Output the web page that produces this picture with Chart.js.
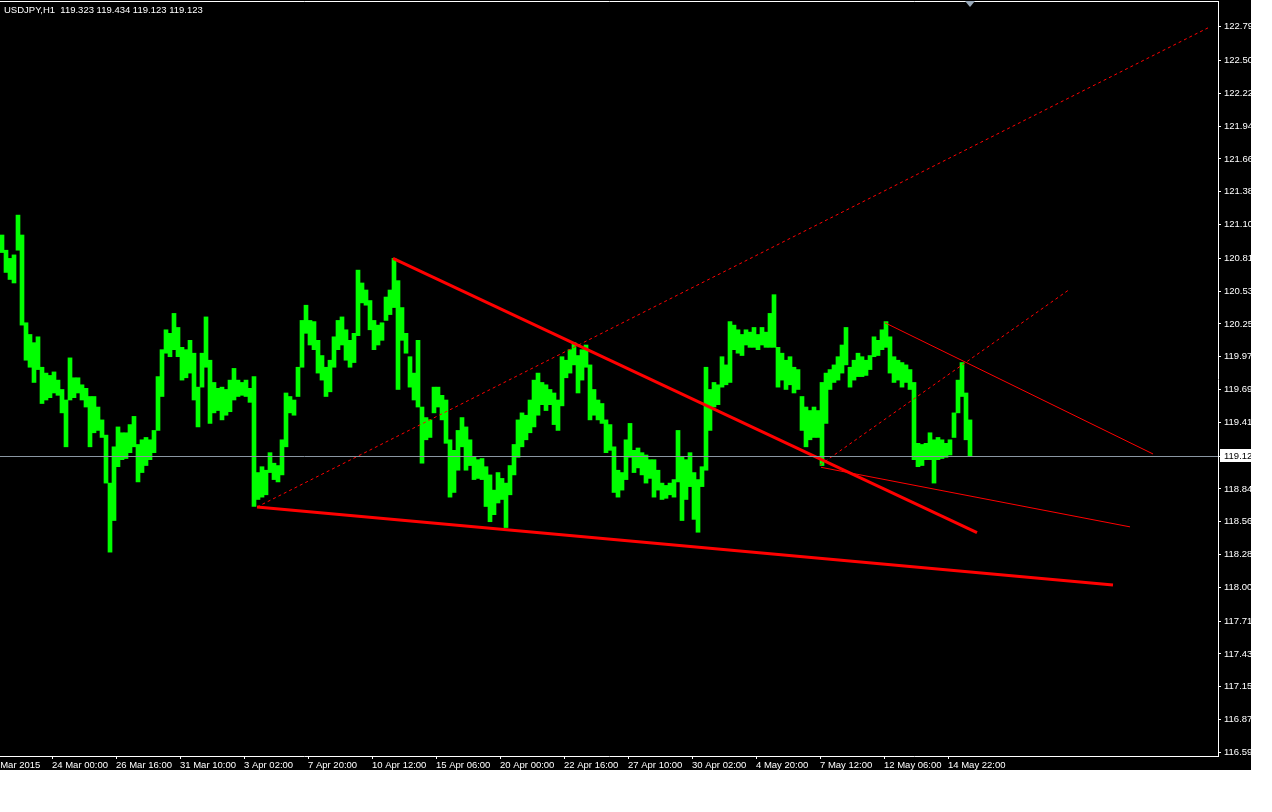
<!DOCTYPE html>
<html><head><meta charset="utf-8">
<script src="https://cdn.jsdelivr.net/npm/chart.js@4/dist/chart.umd.min.js"></script>
<style>
html,body{margin:0;padding:0;background:#fff;}
#wrap{position:absolute;left:0;top:0;width:1251px;height:770px;background:#000;overflow:hidden;}
</style></head><body>
<div id="wrap"><canvas id="c"></canvas></div>
<script>
const symbolTitle = "USDJPY,H1  119.323 119.434 119.123 119.123";
const lastClose = 119.123;

// 4-hour groups of H1 bars (high / low)
const barHigh = [
121.01,120.88,120.81,120.84,121.18,121.01,120.26,120.16,120.09,120.14,
119.88,119.83,119.81,119.84,119.77,119.69,119.60,119.96,119.79,119.79,
119.73,119.70,119.63,119.63,119.54,119.43,119.30,118.89,119.20,119.37,
119.32,119.32,119.39,119.46,119.22,119.26,119.28,119.26,119.34,119.80,
120.03,120.20,120.17,120.34,120.22,120.05,120.03,120.11,120.00,119.71,
120.00,120.31,119.94,119.75,119.70,119.71,119.69,119.77,119.87,119.77,
119.75,119.77,119.70,119.80,118.98,119.03,119.00,119.15,119.06,119.04,
119.26,119.66,119.63,119.60,119.88,120.28,120.41,120.28,120.27,120.11,
119.98,119.88,119.94,120.14,120.28,120.31,120.20,120.11,120.17,120.71,
120.60,120.54,120.45,120.28,120.24,120.26,120.48,120.54,120.81,120.62,
120.39,120.17,119.97,119.83,120.11,119.54,119.45,119.43,119.71,119.71,
119.64,119.60,119.26,119.17,119.34,119.45,119.37,119.26,119.11,119.09,
119.10,119.03,118.96,118.83,118.98,118.93,118.89,119.04,119.22,119.43,
119.49,119.47,119.60,119.77,119.83,119.75,119.73,119.69,119.66,119.60,
119.97,119.94,120.03,120.09,119.98,120.03,120.07,119.90,119.69,119.60,
119.57,119.43,119.39,119.20,119.00,118.98,119.26,119.40,119.17,119.19,
119.15,119.13,119.09,119.09,119.00,118.89,118.87,118.89,118.92,119.34,
119.11,119.09,119.15,118.98,118.92,119.03,119.88,119.69,119.75,119.73,
119.97,119.90,120.27,120.24,120.20,120.16,120.20,120.18,120.22,120.16,
120.22,120.18,120.34,120.50,120.05,120.00,119.94,119.97,119.88,119.86,
119.63,119.54,119.51,119.54,119.51,119.75,119.83,119.86,119.90,119.97,
120.07,120.22,119.88,119.94,120.00,119.97,119.94,119.98,120.14,120.11,
120.20,120.27,120.14,119.97,119.94,119.92,119.90,119.86,119.75,119.23,
119.22,119.23,119.32,119.26,119.28,119.26,119.23,119.26,119.49,119.77,
119.92,119.66,119.43];
const barLow = [
120.86,120.69,120.63,120.60,120.88,120.24,119.94,119.88,119.75,119.86,
119.57,119.60,119.62,119.66,119.64,119.49,119.20,119.60,119.62,119.66,
119.60,119.54,119.20,119.32,119.34,119.28,118.89,118.30,118.57,119.03,
119.09,119.10,119.15,119.20,118.90,118.98,119.04,119.09,119.15,119.34,
119.63,120.00,119.97,120.03,119.97,119.77,119.79,119.83,119.60,119.37,
119.71,119.88,119.40,119.49,119.51,119.43,119.47,119.50,119.60,119.63,
119.64,119.63,119.58,118.69,118.75,118.77,118.79,118.98,118.92,118.90,
118.96,119.20,119.49,119.47,119.63,119.88,120.17,120.07,120.03,119.83,
119.77,119.63,119.67,119.88,120.03,120.07,119.94,119.88,119.92,120.15,
120.43,120.41,120.20,120.03,120.07,120.11,120.28,120.33,120.39,119.69,
120.11,120.00,119.71,119.60,119.54,119.06,119.26,119.28,119.49,119.54,
119.43,119.23,118.77,118.81,119.00,119.20,119.00,119.04,118.92,118.93,
118.92,118.69,118.56,118.62,118.72,118.75,118.51,118.79,118.96,119.11,
119.20,119.26,119.32,119.37,119.47,119.56,119.51,119.56,119.39,119.34,
119.55,119.79,119.83,119.90,119.66,119.77,119.88,119.43,119.47,119.43,
119.40,119.15,119.17,118.81,118.77,118.83,118.92,119.11,118.98,119.02,
118.96,118.89,118.93,118.77,118.83,118.75,118.76,118.79,118.77,118.90,
118.57,118.75,118.86,118.58,118.47,118.86,119.00,119.34,119.54,119.56,
119.71,119.73,119.75,120.03,120.00,119.98,120.07,120.05,120.05,120.03,
120.07,120.05,120.05,120.05,119.71,119.77,119.69,119.73,119.66,119.69,
119.34,119.20,119.26,119.28,119.28,119.04,119.40,119.69,119.75,119.77,
119.83,119.90,119.71,119.77,119.80,119.80,119.81,119.86,119.97,119.98,
120.03,120.05,119.83,119.75,119.77,119.71,119.75,119.69,119.09,119.03,
119.04,119.09,119.09,118.89,119.09,119.10,119.11,119.13,119.28,119.49,
119.63,119.26,119.12];
const hoursPerGroup = 4;
const barIndex = barHigh.map((_, i) => i * hoursPerGroup + hoursPerGroup / 2);

const timeTickIndex = [-13, 52, 116, 180, 244, 308, 372, 436, 500, 564, 628, 692, 756, 820, 884, 948];
const timeTickLabels = ["20 Mar 2015","24 Mar 00:00","26 Mar 16:00","31 Mar 10:00","3 Apr 02:00","7 Apr 20:00",
  "10 Apr 12:00","15 Apr 06:00","20 Apr 00:00","22 Apr 16:00","27 Apr 10:00","30 Apr 02:00",
  "4 May 20:00","7 May 12:00","12 May 06:00","14 May 22:00"];
const priceTicks = [122.79,122.50,122.22,121.94,121.66,121.38,121.10,120.81,120.53,120.25,119.97,119.69,
  119.41,119.12,118.84,118.56,118.28,118.00,117.71,117.43,117.15,116.87,116.59];

// trend lines drawn on the chart (bar index, price)
const supportThick    = [{x:257, y:118.686}, {x:1113, y:118.019}];
const resistanceThick = [{x:393, y:120.811}, {x:977,  y:118.466}];
const channelDotted   = [{x:257, y:118.686}, {x:1208, y:122.780}];
const shortDotted     = [{x:820, y:119.045}, {x:1070, y:120.548}];
const upperThin       = [{x:885, y:120.260}, {x:1153, y:119.139}];
const lowerThin       = [{x:821, y:119.025}, {x:1130, y:118.516}];
const shiftMarkerIndex = 970;

const FONT = {family: "'Liberation Sans', Arial, sans-serif", size: 9.5};

const overlay = {
  id: 'overlay',
  afterDatasetsDraw(chart) {
    const {ctx, chartArea, scales} = chart;
    const py = Math.round(scales.y.getPixelForValue(lastClose)) + 0.5;
    ctx.save();
    ctx.strokeStyle = '#8a96a2';
    ctx.lineWidth = 1;
    ctx.beginPath();
    ctx.moveTo(chartArea.left, py);
    ctx.lineTo(chartArea.right, py);
    ctx.stroke();
    ctx.restore();
  },
  afterDraw(chart) {
    const {ctx, chartArea, scales} = chart;
    ctx.save();
    // top frame
    ctx.strokeStyle = '#ffffff';
    ctx.lineWidth = 1;
    ctx.beginPath();
    ctx.moveTo(chartArea.left, 1.5);
    ctx.lineTo(chartArea.right + 1, 1.5);
    ctx.stroke();
    // title
    ctx.fillStyle = '#ffffff';
    ctx.font = "9.5px 'Liberation Sans', Arial, sans-serif";
    ctx.textBaseline = 'middle';
    ctx.textAlign = 'left';
    ctx.fillText(symbolTitle, 4, 10);
    // current price box
    const py = Math.round(scales.y.getPixelForValue(lastClose));
    ctx.fillStyle = '#ffffff';
    ctx.fillRect(chartArea.right + 2, py - 7, 40, 13);
    ctx.fillStyle = '#000000';
    ctx.fillText(lastClose.toFixed(2), chartArea.right + 6, py);
    // chart shift marker
    const sx = scales.x.getPixelForValue(shiftMarkerIndex);
    ctx.fillStyle = '#98a8b8';
    ctx.beginPath();
    ctx.moveTo(sx - 5, 1);
    ctx.lineTo(sx + 5, 1);
    ctx.lineTo(sx, 7);
    ctx.closePath();
    ctx.fill();
    ctx.restore();
  }
};

function lineDs(data, width, dash) {
  return {type: 'line', data, borderColor: '#ff0000', borderWidth: width, borderDash: dash || [],
    pointRadius: 0, fill: false, tension: 0, order: 1};
}

new Chart(document.getElementById('c'), {
  type: 'bar',
  data: {
    datasets: [
      {data: barIndex.map((x, i) => ({x, y: [barLow[i], barHigh[i]]})),
       backgroundColor: '#00ff00', borderWidth: 0, barThickness: hoursPerGroup, order: 2},
      lineDs(supportThick, 3),
      lineDs(resistanceThick, 3),
      lineDs(channelDotted, 1, [3, 3]),
      lineDs(shortDotted, 1, [3, 3]),
      lineDs(upperThin, 1),
      lineDs(lowerThin, 1)
    ]
  },
  options: {
    responsive: true, maintainAspectRatio: false, animation: false, events: [],
    layout: {padding: {top: 2, left: 0, right: 0, bottom: 0}},
    plugins: {legend: {display: false}, tooltip: {enabled: false}, title: {display: false}},
    scales: {
      x: {
        type: 'linear', min: 0, max: 1218, offset: false, position: 'bottom',
        afterBuildTicks: s => { s.ticks = timeTickIndex.map(v => ({value: v})); },
        afterFit: s => { s.height = 14; s.paddingLeft = 0; s.paddingRight = 0; },
        ticks: {autoSkip: false, maxRotation: 0, minRotation: 0, align: 'start', color: '#ffffff',
          padding: 1, font: FONT, callback: (v, i) => timeTickLabels[i]},
        grid: {offset: false, drawOnChartArea: false, drawTicks: true, tickLength: 3, color: '#ffffff'},
        border: {display: true, color: '#ffffff'}
      },
      y: {
        type: 'linear', position: 'right', min: 116.558, max: 123.001,
        afterBuildTicks: s => { s.ticks = priceTicks.map(v => ({value: v})); },
        afterFit: s => { s.width = 33; s.paddingTop = 0; s.paddingBottom = 0; },
        ticks: {autoSkip: false, color: '#ffffff', padding: 3, font: FONT, callback: v => v.toFixed(2)},
        grid: {drawOnChartArea: false, drawTicks: true, tickLength: 3, color: '#ffffff'},
        border: {display: true, color: '#ffffff'}
      }
    }
  },
  plugins: [overlay]
});
</script>
</body></html>
